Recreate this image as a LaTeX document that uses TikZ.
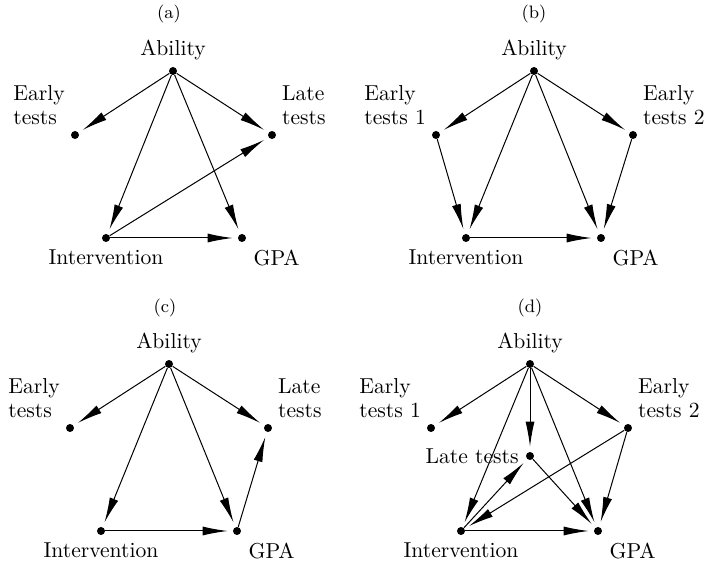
\documentclass[tikz,border=0pt]{standalone}
\usepackage{tikz}
\usetikzlibrary{arrows.meta, positioning}
\tikzset{
    x=0.5pt, y=-0.5pt, % one unit is one pixel of the layout
    >={Latex[length=12.5pt, width=4.5pt]}, % long thin arrow heads
    every edge/.style={draw, ->, line width=0.5pt, shorten >=2.5pt}, % every causal link
    var/.style={circle, fill, inner sep=0pt, minimum size=4pt}, % a variable is a black dot
    every label/.style={font=\fontsize{10.8}{12}\selectfont, align=left},
    caption/.style={font=\fontsize{9}{10}\selectfont},
    }

\begin{document}
\begin{tikzpicture}
\useasboundingbox (0,0) rectangle (706,565);

% (a)
\node[caption] (capa) at (169,14) {(a)};
\node[var, label=above:Ability] (a1) at (173,71) {};
\node[var, label={135:Early\\tests}] (a2) at (75,135) {};
\node[var, label={45:Late\\tests}] (a3) at (272,135) {};
\node[var, label=below:Intervention] (a4) at (106,238) {};
\node[var, label={[label distance=1pt]-45:GPA}] (a5) at (242,238) {};

\draw (a1) edge (a2)
(a1) edge (a3)
(a1) edge (a4)
(a1) edge (a5)
(a4) edge (a5)
(a4) edge (a3);

% (b)
\node[caption] (capb) at (534,14) {(b)};
\node[var, label=above:Ability] (b1) at (534,71) {};
\node[var, label={135:Early\\tests 1}] (b2) at (436,135) {};
\node[var, label={45:Early\\tests 2}] (b3) at (633,135) {};
\node[var, label=below:Intervention] (b4) at (466,238) {};
\node[var, label={[label distance=1pt]-45:GPA}] (b5) at (601,238) {};

\draw (b1) edge (b2)
(b1) edge (b3)
(b1) edge (b4)
(b1) edge (b5)
(b2) edge (b4)
(b3) edge (b5)
(b4) edge (b5);

% (c)
\node[caption] (capc) at (165,308) {(c)};
\node[var, label=above:Ability] (c1) at (169,364) {};
\node[var, label={135:Early\\tests}] (c2) at (70,428) {};
\node[var, label={45:Late\\tests}] (c3) at (268,428) {};
\node[var, label=below:Intervention] (c4) at (101,531) {};
\node[var, label={[label distance=1pt]-45:GPA}] (c5) at (237,531) {};

\draw (c1) edge (c2)
(c1) edge (c3)
(c1) edge (c4)
(c1) edge (c5)
(c4) edge (c5)
(c5) edge (c3);

% (d)
\node[caption] (capd) at (530,308) {(d)};
\node[var, label=above:Ability] (d1) at (530,364) {};
\node[var, label={135:Early\\tests 1}] (d2) at (431,428) {};
\node[var, label={45:Early\\tests 2}] (d3) at (628,428) {};
\node[var, label=left:Late tests] (d6) at (530,456) {};
\node[var, label=below:Intervention] (d4) at (461,531) {};
\node[var, label={[label distance=1pt]-45:GPA}] (d5) at (598,531) {};

\draw (d1) edge (d2)
(d1) edge (d3)
(d1) edge (d6)
(d1) edge (d4)
(d1) edge (d5)
(d6) edge (d5)
(d4) edge (d6)
(d3) edge (d4)
(d3) edge (d5)
(d4) edge (d5);
\end{tikzpicture}
\end{document}
